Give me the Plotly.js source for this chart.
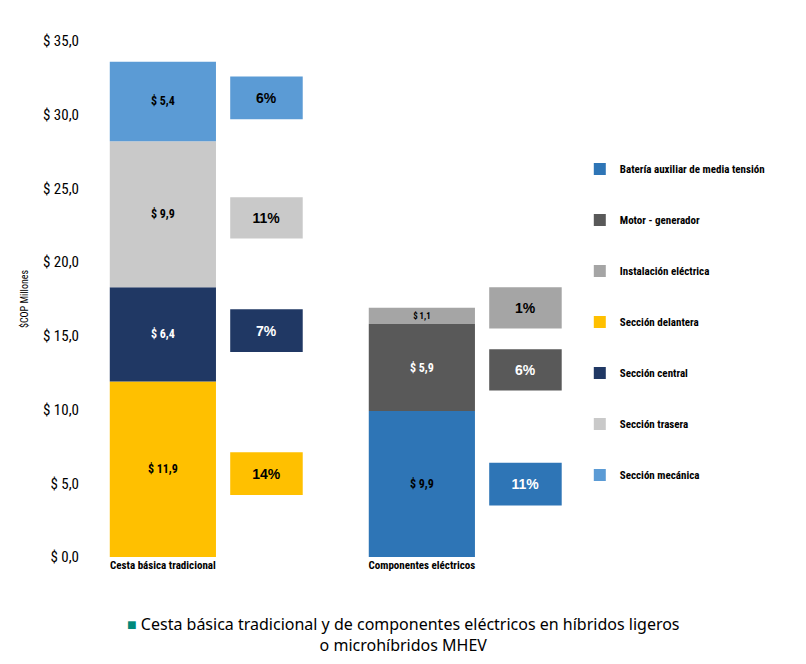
<!DOCTYPE html>
<html><head><meta charset="utf-8">
<script src="https://cdn.plot.ly/plotly-3.0.1.min.js"></script>
<style>body{margin:0;background:#fff}#chart{width:806px;height:664px}</style>
</head><body><div id="chart"></div>
<script>
// categorías y series
const categories = ['<b>Cesta básica tradicional</b>', '<b>Componentes eléctricos</b>'];
const seriesNames = ['Batería auxiliar de media tensión', 'Motor - generador', 'Instalación eléctrica',
                     'Sección delantera', 'Sección central', 'Sección trasera', 'Sección mecánica'];
const seriesCat = [1, 1, 1, 0, 0, 0, 0];
const seriesValues = [9.9, 5.9, 1.1, 11.9, 6.4, 9.9, 5.4];
const seriesLabels = ['$ 9,9', '$ 5,9', '$ 1,1', '$ 11,9', '$ 6,4', '$ 9,9', '$ 5,4'];
const seriesColors = ['#2E75B6', '#595959', '#A5A5A5', '#FFC000', '#203864', '#C9C9C9', '#5B9BD5'];
const textColors = ['#000', '#fff', '#000', '#000', '#fff', '#000', '#000'];
// cajas de porcentaje
const pctLabels = ['11%', '6%', '1%', '14%', '7%', '11%', '6%'];
const pctLow = [3.5, 11.3, 15.5, 4.2, 13.9, 21.6, 29.7];
const pctHigh = [6.4, 14.1, 18.3, 7.1, 16.8, 24.4, 32.6];
const pctTextColors = ['#fff', '#fff', '#000', '#000', '#fff', '#000', '#000'];
const tickVals = [0, 5, 10, 15, 20, 25, 30, 35];
const tickText = ['$ 0,0', '$ 5,0', '$ 10,0', '$ 15,0', '$ 20,0', '$ 25,0', '$ 30,0', '$ 35,0'];

const font = 'Liberation Sans Narrow, Arial Narrow, Roboto Condensed, Roboto, sans-serif';
const traces = [];
const cum = [0, 0];
seriesNames.forEach((name, i) => {
    const c = seriesCat[i];
    traces.push({
        type: 'bar', name: '<b>' + name + '</b>', x: [c], y: [seriesValues[i]], base: [cum[c]], width: 0.41,
        marker: { color: seriesColors[i] }, text: ['<b>' + seriesLabels[i] + '</b>'], textposition: 'inside',
        insidetextanchor: 'middle', textfont: { color: textColors[i], size: 12, family: font },
        legendgroup: 'g' + i, hoverinfo: 'name+y'
    });
    cum[c] += seriesValues[i];
});
pctLabels.forEach((lab, i) => {
    traces.push({
        type: 'bar', x: [seriesCat[i] + 0.40], y: [pctHigh[i] - pctLow[i]], base: [pctLow[i]], width: 0.28,
        marker: { color: seriesColors[i] }, text: ['<b>' + lab + '</b>'], textposition: 'inside', insidetextanchor: 'middle',
        textfont: { color: pctTextColors[i], size: 14, family: 'Liberation Sans, Arial, sans-serif' },
        showlegend: false, hoverinfo: 'skip', legendgroup: 'g' + i
    });
});

const layout = {
    width: 806, height: 664, paper_bgcolor: '#fff', plot_bgcolor: '#fff',
    margin: { l: 80, r: 236, t: 41, b: 107 },
    barmode: 'overlay', showlegend: true,
    font: { family: font, color: '#000', size: 12 },
    xaxis: { range: [-0.32, 1.572], tickvals: [0, 1], ticktext: categories, showgrid: false,
             zeroline: false, showline: false, ticks: '', tickfont: { size: 11, family: font } },
    yaxis: { range: [0, 35], tickvals: tickVals, ticktext: tickText, showgrid: false, zeroline: false,
             showline: false, ticks: '', tickfont: { size: 15, family: font },
             title: { text: '$COP Millones', font: { size: 10, family: font }, standoff: 12 } },
    legend: { x: 1.02, y: 0.78, yanchor: 'top', traceorder: 'grouped', tracegroupgap: 32,
              font: { size: 11, family: font }, itemwidth: 30 },
    annotations: [{
        xref: 'paper', yref: 'paper', x: 0.66, y: -0.105, yanchor: 'top', showarrow: false, align: 'center',
        text: '<span style="color:#00897B">■</span> Cesta básica tradicional y de componentes eléctricos en híbridos ligeros<br>o microhíbridos MHEV',
        font: { size: 16, family: 'Noto Sans, sans-serif', color: '#000' }
    }]
};
Plotly.newPlot('chart', traces, layout, { displayModeBar: false });
</script></body></html>
